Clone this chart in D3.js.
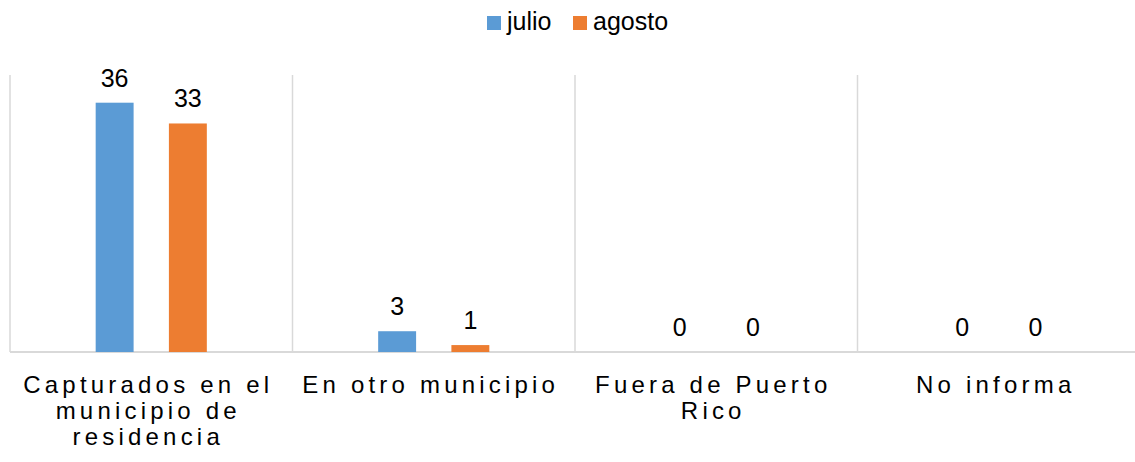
<!DOCTYPE html>
<html>
<head>
<meta charset="utf-8">
<script src="https://cdn.jsdelivr.net/npm/d3@7"></script>
<style>
  body { margin: 0; background: #fff; }
  text { font-family: "Liberation Sans", Arial, sans-serif; fill: #000; }
</style>
</head>
<body>
<div id="chart"></div>
<script>
// data
var categories = ["Capturados en el municipio de residencia", "En otro municipio", "Fuera de Puerto Rico", "No informa"];
var series = ["julio", "agosto"];
var julio = [36, 3, 0, 0];
var agosto = [33, 1, 0, 0];
var colors = ["#5b9bd5", "#ed7d31"];

var width = 1135,
    height = 462;

var svg = d3.select("#chart")
  .append("svg")
    .attr("width", width)
    .attr("height", height);

var x0 = d3.scaleBand()
    .domain(categories)
    .range([10, 1140]);

var x1 = d3.scaleBand()
    .domain(series)
    .range([0, x0.bandwidth()])
    .paddingInner(0.482)
    .paddingOuter(1.17);

var y = d3.scaleLinear()
    .domain([0, 40])
    .range([352, 75]);

var color = d3.scaleOrdinal().domain(series).range(colors);

var rows = categories.map(function(c, i) {
  return { cat: c, values: [{ s: "julio", v: julio[i] }, { s: "agosto", v: agosto[i] }] };
});

// category separators
svg.append("g")
  .selectAll("line")
  .data(categories)
  .enter().append("line")
    .attr("x1", function(d) { return x0(d); })
    .attr("x2", function(d) { return x0(d); })
    .attr("y1", y(40))
    .attr("y2", y(0))
    .attr("stroke", "#d9d9d9")
    .attr("stroke-width", 1.5);

// baseline
svg.append("line")
    .attr("x1", x0.range()[0])
    .attr("x2", x0.range()[1])
    .attr("y1", y(0))
    .attr("y2", y(0))
    .attr("stroke", "#d9d9d9")
    .attr("stroke-width", 2);

var group = svg.append("g")
  .selectAll("g")
  .data(rows)
  .enter().append("g")
    .attr("transform", function(d) { return "translate(" + x0(d.cat) + ",0)"; });

group.selectAll("rect")
  .data(function(d) { return d.values; })
  .enter().append("rect")
    .attr("x", function(d) { return x1(d.s); })
    .attr("y", function(d) { return y(d.v); })
    .attr("width", x1.bandwidth())
    .attr("height", function(d) { return y(0) - y(d.v); })
    .attr("fill", function(d) { return color(d.s); });

group.selectAll("text.val")
  .data(function(d) { return d.values; })
  .enter().append("text")
    .attr("class", "val")
    .attr("x", function(d) { return x1(d.s) + x1.bandwidth() / 2; })
    .attr("y", function(d) { return y(d.v) - 16; })
    .attr("text-anchor", "middle")
    .style("font-size", "25px")
    .text(function(d) { return d.v; });

// category labels, wrapped to band width
var labels = svg.append("g")
  .selectAll("text")
  .data(categories)
  .enter().append("text")
    .attr("x", function(d) { return x0(d) + x0.bandwidth() / 2 - 3; })
    .attr("y", 393)
    .attr("text-anchor", "middle")
    .style("font-size", "24px")
    .style("letter-spacing", "4.2px")
    .each(function(d) { wrap(d3.select(this), d, 285); });

function wrap(text, str, maxW) {
  var words = str.split(" "),
      line = [],
      x = text.attr("x"),
      tspan = text.append("tspan").attr("x", x).attr("dy", 0);
  words.forEach(function(w) {
    line.push(w);
    tspan.text(line.join(" "));
    if (tspan.node().getComputedTextLength() > maxW && line.length > 1) {
      line.pop();
      tspan.text(line.join(" "));
      line = [w];
      tspan = text.append("tspan").attr("x", x).attr("dy", 26).text(w);
    }
  });
}

// legend
var legend = svg.append("g");
var legendX = [487, 573];
series.forEach(function(s, i) {
  legend.append("rect")
      .attr("x", legendX[i])
      .attr("y", 16)
      .attr("width", 14)
      .attr("height", 14)
      .attr("fill", color(s));
  legend.append("text")
      .attr("x", legendX[i] + 20)
      .attr("y", 30)
      .style("font-size", "25px")
      .text(s);
});
</script>
</body>
</html>
